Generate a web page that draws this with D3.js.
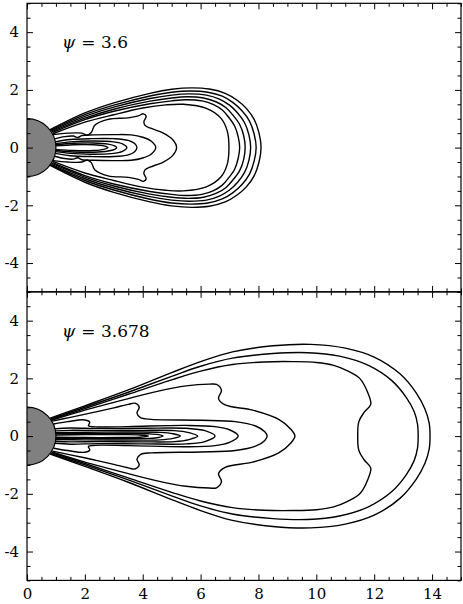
<!DOCTYPE html>
<html>
<head>
<meta charset="utf-8">
<script src="https://cdn.jsdelivr.net/npm/d3@7"></script>
<style>
  body { margin: 0; background: #fff; }
</style>
</head>
<body>
<div id="chart"></div>
<script>
// upper half of each contour (x, y), from the star surface to the tip on the axis
// lower half is the mirror image
const contoursTop = [
  [[0.8,0.62],[2,1.2],[3,1.55],[4.25,1.88],[5,2.02],[5.7,2.07],[6.3,2.03],[6.85,1.88],[7.25,1.65],[7.58,1.36],[7.85,0.98],[8.02,0.5],[8.09,0]],
  [[0.82,0.6],[2,1.14],[3,1.47],[4.25,1.79],[5,1.92],[5.65,1.96],[6.25,1.92],[6.75,1.78],[7.12,1.56],[7.43,1.28],[7.69,0.92],[7.85,0.47],[7.92,0]],
  [[0.84,0.58],[2,1.08],[3,1.4],[4.25,1.7],[5,1.82],[5.6,1.86],[6.2,1.82],[6.65,1.68],[7.0,1.47],[7.28,1.2],[7.52,0.86],[7.67,0.44],[7.73,0]],
  [[0.86,0.55],[2,1.02],[3,1.33],[4.25,1.61],[5,1.72],[5.55,1.76],[6.1,1.72],[6.55,1.58],[6.88,1.38],[7.12,1.12],[7.35,0.8],[7.49,0.41],[7.54,0]],
  [[0.88,0.52],[2,0.97],[3,1.26],[4.25,1.52],[5,1.62],[5.5,1.66],[6.05,1.62],[6.45,1.49],[6.75,1.3],[6.97,1.05],[7.18,0.74],[7.3,0.37],[7.35,0]],
  [[0.9,0.48],[2,0.88],[3,1.14],[4,1.37],[4.8,1.48],[5.4,1.5],[6.2,1.36],[6.7,1.02],[6.92,0.58],[6.98,0]],
  [[0.9,0.45],[1.4,0.5],[1.9,0.5],[2.08,0.43],[2.22,0.52],[2.35,0.78],[2.8,0.98],[3.5,1.03],[3.85,1.1],[4.02,1.17],[4.12,1.08],[4.04,0.9],[4.08,0.77],[4.25,0.68],[4.71,0.5],[5.04,0.27],[5.17,0]],
  [[0.95,0.3],[1.3,0.38],[1.6,0.4],[1.75,0.35],[1.9,0.42],[2.3,0.44],[3,0.45],[3.6,0.44],[4.0,0.36],[4.3,0.22],[4.45,0]],
  [[0.97,0.2],[1.5,0.28],[2.2,0.31],[3,0.31],[3.5,0.25],[3.72,0.14],[3.8,0]],
  [[0.98,0.14],[1.5,0.2],[2.2,0.23],[2.9,0.21],[3.3,0.13],[3.45,0]],
  [[0.99,0.1],[1.6,0.15],[2.3,0.16],[2.8,0.12],[3.03,0.06],[3.1,0]],
  [[0.99,0.06],[1.6,0.1],[2.3,0.1],[2.65,0.06],[2.8,0]]
];

const contoursBottom = [
  [[0.8,0.62],[2,1.05],[3.5,1.6],[5,2.2],[6,2.58],[7.1,2.92],[8.5,3.13],[9.8,3.18],[11,3.05],[12,2.74],[12.9,2.15],[13.45,1.5],[13.75,0.95],[13.9,0.45],[13.93,0]],
  [[0.82,0.6],[2,1.0],[3.5,1.52],[5,2.07],[6,2.42],[7.1,2.7],[8.5,2.86],[9.7,2.89],[10.8,2.77],[11.8,2.45],[12.6,1.93],[13.1,1.35],[13.38,0.85],[13.5,0.4],[13.52,0]],
  [[0.84,0.57],[2,0.95],[3.5,1.45],[5,1.95],[6,2.25],[7.1,2.48],[8.2,2.57],[9.2,2.58],[10.0,2.55],[10.6,2.45],[11.1,2.25],[11.5,2.0],[11.78,1.5],[11.88,1.1],[11.65,0.82],[11.47,0.5],[11.43,0]],
  [[0.86,0.55],[2,0.9],[3.5,1.3],[4.5,1.55],[5.5,1.74],[6.3,1.8],[6.55,1.79],[6.72,1.58],[6.62,1.3],[6.85,1.08],[7.8,0.9],[8.7,0.58],[9.12,0.24],[9.26,0]],
  [[0.88,0.52],[1.5,0.65],[2.3,0.82],[3.0,0.98],[3.5,1.1],[3.73,1.14],[3.88,1.0],[3.8,0.8],[3.92,0.64],[4.3,0.58],[6,0.55],[7.2,0.5],[7.9,0.35],[8.22,0.15],[8.3,0]],
  [[0.92,0.42],[1.4,0.5],[2.0,0.56],[2.17,0.48],[2.12,0.36],[2.35,0.32],[3.5,0.33],[5.5,0.37],[6.5,0.33],[7.0,0.22],[7.3,0]],
  [[0.95,0.25],[1.5,0.28],[2.5,0.26],[4,0.27],[5.5,0.27],[6.15,0.19],[6.5,0]],
  [[0.97,0.18],[1.5,0.2],[2.5,0.19],[4,0.2],[5.1,0.19],[5.6,0.12],[5.9,0]],
  [[0.98,0.12],[2,0.13],[3.5,0.14],[4.6,0.13],[5.05,0.08],[5.3,0]],
  [[0.99,0.08],[2,0.08],[3.3,0.09],[4.2,0.08],[4.55,0.05],[4.7,0]],
  [[0.99,0.04],[2,0.05],[3.2,0.05],[3.9,0.04],[4.2,0]]
];

const psiValues = ["3.6", "3.678"];
const xMajorTicks = [0, 2, 4, 6, 8, 10, 12, 14];
const yMajorTicks = [-4, -2, 0, 2, 4];
const starRadius = 1;

const width = 463, height = 604;
const left = 27, right = 461;
const panelTops = [3.3, 291.8];
const panelHeight = 288.6;
const serif = "DejaVu Serif";

const svg = d3.select("#chart").append("svg")
  .attr("width", width)
  .attr("height", height);

const x = d3.scaleLinear().domain([0, 15]).range([left, right]);
const xMinor = d3.range(0, 15.01, 0.5).filter(d => d % 2 !== 0);
const yMinor = d3.range(-5, 5.01, 0.5).filter(d => d % 2 !== 0);

const mirror = upper => upper.concat(upper.slice(0, -1).reverse().map(([a, b]) => [a, -b]));

[contoursTop, contoursBottom].forEach((contours, i) => {
  const top = panelTops[i];
  const y = d3.scaleLinear().domain([-5, 5]).range([top + panelHeight, top]);
  const g = svg.append("g");

  g.append("clipPath").attr("id", "clip" + i)
    .append("rect")
    .attr("x", left).attr("y", top)
    .attr("width", right - left).attr("height", panelHeight);

  const plot = g.append("g").attr("clip-path", `url(#clip${i})`);

  const line = d3.line()
    .x(d => x(d[0]))
    .y(d => y(d[1]))
    .curve(d3.curveCatmullRom.alpha(0.5));

  plot.selectAll("path.contour")
    .data(contours)
    .join("path")
    .attr("class", "contour")
    .attr("d", d => line(mirror(d)))
    .attr("fill", "none")
    .attr("stroke", "#000")
    .attr("stroke-width", 1.4);

  plot.append("circle")
    .attr("cx", x(0)).attr("cy", y(0))
    .attr("r", x(starRadius) - x(0))
    .attr("fill", "#808080")
    .attr("stroke", "#000")
    .attr("stroke-width", 1.2);

  // ticks pointing inward on all four sides
  const axes = [
    [d3.axisBottom(x).tickValues(xMajorTicks).tickSize(-6), `translate(0,${top + panelHeight})`, i === 1],
    [d3.axisBottom(x).tickValues(xMinor).tickSize(-3.5), `translate(0,${top + panelHeight})`, false],
    [d3.axisTop(x).tickValues(xMajorTicks).tickSize(-6), `translate(0,${top})`, false],
    [d3.axisTop(x).tickValues(xMinor).tickSize(-3.5), `translate(0,${top})`, false],
    [d3.axisLeft(y).tickValues(yMajorTicks).tickSize(-6), `translate(${left},0)`, true],
    [d3.axisLeft(y).tickValues(yMinor).tickSize(-3.5), `translate(${left},0)`, false],
    [d3.axisRight(y).tickValues(yMajorTicks).tickSize(-6), `translate(${right},0)`, false],
    [d3.axisRight(y).tickValues(yMinor).tickSize(-3.5), `translate(${right},0)`, false]
  ];
  axes.forEach(([axis, tr, labels]) => {
    axis.tickPadding(labels ? 8 : 0).tickFormat(labels ? d => String(d) : "");
    const a = g.append("g").attr("transform", tr).call(axis)
      .attr("font-family", serif)
      .attr("font-size", 15);
    a.select(".domain").remove();
    a.selectAll("line").attr("stroke", "#000").attr("stroke-width", 1);
    a.selectAll("text").attr("fill", "#000");
  });

  g.append("rect")
    .attr("x", left).attr("y", top)
    .attr("width", right - left).attr("height", panelHeight)
    .attr("fill", "none")
    .attr("stroke", "#000")
    .attr("stroke-width", 1.2);

  const label = g.append("text")
    .attr("x", 62).attr("y", top + 45)
    .attr("font-family", serif)
    .attr("font-size", 17);
  label.append("tspan").attr("font-style", "italic").text("ψ");
  label.append("tspan").attr("dx", 6).text("= " + psiValues[i]);
});
</script>
</body>
</html>
